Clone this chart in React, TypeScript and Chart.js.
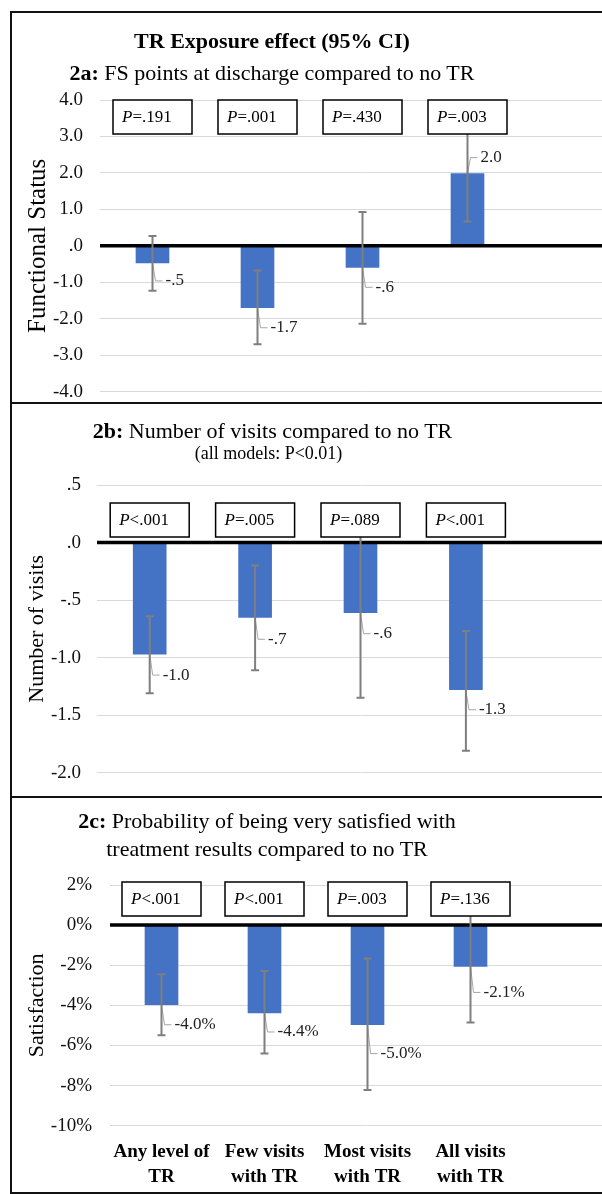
import React, { useEffect, useRef } from "react";
import { Chart, registerables } from "chart.js";

Chart.register(...registerables);

const SERIF = '"Liberation Serif", "Times New Roman", serif';

// Categories (x axis, shared by all panels)
const categories: string[][] = [
  ["Any level of", "TR"],
  ["Few visits", "with TR"],
  ["Most visits", "with TR"],
  ["All visits", "with TR"],
];

// 2a: FS points at discharge compared to no TR
const fsEstimate = [-0.47, -1.7, -0.59, 1.98];
const fsCiLow = [-1.23, -2.7, -2.14, 0.67];
const fsCiHigh = [0.27, -0.68, 0.93, 3.32];
const fsValueLabels = ["-.5", "-1.7", "-.6", "2.0"];
const fsPValues = ["=.191", "=.001", "=.430", "=.003"];
const fsTicks = [-4, -3, -2, -1, 0, 1, 2, 3, 4];

// 2b: Number of visits compared to no TR
const visitsEstimate = [-0.97, -0.65, -0.61, -1.28];
const visitsCiLow = [-1.31, -1.11, -1.35, -1.81];
const visitsCiHigh = [-0.64, -0.2, 0.1, -0.77];
const visitsValueLabels = ["-1.0", "-.7", "-.6", "-1.3"];
const visitsPValues = ["<.001", "=.005", "=.089", "<.001"];
const visitsTicks = [-2, -1.5, -1, -0.5, 0, 0.5];

// 2c: Probability of being very satisfied (percent points)
const satEstimate = [-3.97, -4.38, -4.96, -2.06];
const satCiLow = [-5.49, -6.4, -8.22, -4.86];
const satCiHigh = [-2.45, -2.29, -1.67, 0.7];
const satValueLabels = ["-4.0%", "-4.4%", "-5.0%", "-2.1%"];
const satPValues = ["<.001", "<.001", "=.003", "=.136"];
const satTicks = [-10, -8, -6, -4, -2, 0, 2];

const decFmt = (v: number) => v.toFixed(1).replace(/^(-?)0\./, "$1.");
const pctFmt = (v: number) => `${v}%`;

interface PanelCfg {
  top: number;
  height: number;
  padTop: number;
  padBottom: number;
  padRight: number;
  axisWidth: number;
  tickPad: number;
  estimate: number[];
  ciLow: number[];
  ciHigh: number[];
  valueLabels: string[];
  pValues: string[];
  ticks: number[];
  fmt: (v: number) => string;
  yTitle: string;
  yTitleSize: number;
  yTitleX: number;
  boxOffset: number;
  showX: boolean;
  xHeight?: number;
  labelShift: number[];
}

const panels: PanelCfg[] = [
  {
    top: 0, height: 420, padTop: 100, padBottom: 26.7, padRight: 15, axisWidth: 100, tickPad: 17,
    estimate: fsEstimate, ciLow: fsCiLow, ciHigh: fsCiHigh, valueLabels: fsValueLabels,
    pValues: fsPValues, ticks: fsTicks, fmt: decFmt,
    yTitle: "Functional Status", yTitleSize: 25, yTitleX: 38, boxOffset: 0, showX: false,
    labelShift: [-2, 0, 0, 0],
  },
  {
    top: 400, height: 400, padTop: 85, padBottom: 15, padRight: 16, axisWidth: 97, tickPad: 16,
    estimate: visitsEstimate, ciLow: visitsCiLow, ciHigh: visitsCiHigh, valueLabels: visitsValueLabels,
    pValues: visitsPValues, ticks: visitsTicks, fmt: decFmt,
    yTitle: "Number of visits", yTitleSize: 22, yTitleX: 37.5, boxOffset: 18, showX: false,
    labelShift: [1, 2, 1, 0],
  },
  {
    top: 795, height: 399, padTop: 90, padBottom: 0, padRight: 15, axisWidth: 110, tickPad: 18,
    estimate: satEstimate, ciLow: satCiLow, ciHigh: satCiHigh, valueLabels: satValueLabels,
    pValues: satPValues, ticks: satTicks, fmt: pctFmt,
    yTitle: "Satisfaction", yTitleSize: 22, yTitleX: 37, boxOffset: -3, showX: true, xHeight: 68.3,
    labelShift: [0, -1, 9, 6],
  },
];

function overlayPlugin(cfg: PanelCfg) {
  return {
    id: "overlay",
    afterDatasetsDraw(chart: any) {
      const ctx: CanvasRenderingContext2D = chart.ctx;
      const xs = chart.scales.x;
      const ys = chart.scales.y;
      const area = chart.chartArea;
      ctx.save();

      // zero line
      const y0 = ys.getPixelForValue(0);
      ctx.strokeStyle = "#000";
      ctx.lineWidth = 3.5;
      ctx.beginPath();
      ctx.moveTo(area.left, y0);
      ctx.lineTo(area.right, y0);
      ctx.stroke();

      // leaders + value labels
      cfg.estimate.forEach((v, i) => {
        const cx = xs.getPixelForValue(i);
        const yEnd = ys.getPixelForValue(v);
        const ly = yEnd + (v < 0 ? 20 : -16) + (cfg.labelShift[i] || 0);
        const lx = cx + 13;
        ctx.strokeStyle = "#a6a6a6";
        ctx.lineWidth = 1;
        ctx.beginPath();
        ctx.moveTo(cx, yEnd);
        ctx.lineTo(cx + 3, ly);
        ctx.lineTo(lx - 3, ly);
        ctx.stroke();
        ctx.fillStyle = "#222";
        ctx.font = `17px ${SERIF}`;
        ctx.textAlign = "left";
        ctx.textBaseline = "middle";
        ctx.fillText(cfg.valueLabels[i], lx, ly);
      });

      // error bars
      ctx.strokeStyle = "#7f7f7f";
      ctx.lineWidth = 2;
      cfg.estimate.forEach((_, i) => {
        const cx = xs.getPixelForValue(i);
        const yl = ys.getPixelForValue(cfg.ciLow[i]);
        const yh = ys.getPixelForValue(cfg.ciHigh[i]);
        ctx.beginPath();
        ctx.moveTo(cx, yl);
        ctx.lineTo(cx, yh);
        ctx.moveTo(cx - 4, yl);
        ctx.lineTo(cx + 4, yl);
        ctx.moveTo(cx - 4, yh);
        ctx.lineTo(cx + 4, yh);
        ctx.stroke();
      });

      // P-value boxes
      cfg.pValues.forEach((p, i) => {
        const cx = xs.getPixelForValue(i);
        const bw = 79;
        const bh = 34;
        const bx = cx - bw / 2;
        const by = area.top + cfg.boxOffset;
        ctx.fillStyle = "#fff";
        ctx.fillRect(bx, by, bw, bh);
        ctx.strokeStyle = "#000";
        ctx.lineWidth = 1.5;
        ctx.strokeRect(bx, by, bw, bh);
        ctx.fillStyle = "#000";
        ctx.textAlign = "left";
        ctx.textBaseline = "middle";
        ctx.font = `italic 17px ${SERIF}`;
        ctx.fillText("P", bx + 9, by + bh / 2 + 1);
        const pw = ctx.measureText("P").width;
        ctx.font = `17px ${SERIF}`;
        ctx.fillText(p, bx + 9 + pw, by + bh / 2 + 1);
      });

      // y axis title
      ctx.save();
      ctx.translate(cfg.yTitleX, (area.top + area.bottom) / 2);
      ctx.rotate(-Math.PI / 2);
      ctx.fillStyle = "#000";
      ctx.font = `${cfg.yTitleSize}px ${SERIF}`;
      ctx.textAlign = "center";
      ctx.textBaseline = "middle";
      ctx.fillText(cfg.yTitle, 0, 0);
      ctx.restore();

      ctx.restore();
    },
  };
}

function Panel({ cfg }: { cfg: PanelCfg }) {
  const ref = useRef<HTMLCanvasElement | null>(null);
  useEffect(() => {
    if (!ref.current) return;
    const labels: any[] = [...categories, ""];
    const chart = new Chart(ref.current, {
      type: "bar",
      data: {
        labels,
        datasets: [
          {
            data: [...cfg.estimate, null] as any,
            backgroundColor: "#4472C4",
            barThickness: 33,
          },
        ],
      },
      options: {
        animation: false,
        responsive: false,
        devicePixelRatio: 1,
        events: [],
        layout: {
          padding: { top: cfg.padTop, bottom: cfg.padBottom, left: 0, right: cfg.padRight },
        },
        plugins: {
          legend: { display: false },
          tooltip: { enabled: false },
        },
        scales: {
          x: {
            display: cfg.showX,
            grid: { display: false, drawTicks: false },
            border: { display: false },
            ticks: {
              autoSkip: false,
              maxRotation: 0,
              minRotation: 0,
              padding: 14,
              color: "#000",
              font: { family: SERIF, size: 19, weight: "bold", lineHeight: 25 / 19 },
            },
            afterFit: (s: any) => {
              if (cfg.xHeight) s.height = cfg.xHeight;
            },
          },
          y: {
            min: cfg.ticks[0],
            max: cfg.ticks[cfg.ticks.length - 1],
            afterBuildTicks: (s: any) => {
              s.ticks = cfg.ticks.map((v) => ({ value: v }));
            },
            afterFit: (s: any) => {
              s.width = cfg.axisWidth;
            },
            grid: {
              color: "#d9d9d9",
              lineWidth: 1,
              drawTicks: false,
            },
            border: { display: false },
            ticks: {
              padding: cfg.tickPad,
              color: "#111",
              font: { family: SERIF, size: 19 },
              callback: (v: any) => cfg.fmt(Number(v)),
            },
          },
        },
      },
      plugins: [overlayPlugin(cfg)],
    });
    return () => chart.destroy();
  }, [cfg]);
  return (
    <canvas
      ref={ref}
      width={640}
      height={cfg.height}
      style={{ position: "absolute", left: 0, top: cfg.top, width: 640, height: cfg.height }}
    />
  );
}

const titleBase: React.CSSProperties = {
  position: "absolute",
  left: 0,
  textAlign: "center",
  fontFamily: SERIF,
  color: "#000",
  whiteSpace: "nowrap",
};

export default function App() {
  return (
    <div
      style={{
        position: "fixed",
        left: 0,
        top: 0,
        width: 602,
        height: 1194,
        overflow: "hidden",
        background: "#fff",
      }}
    >
      {panels.map((p, i) => (
        <Panel key={i} cfg={p} />
      ))}

      <div style={{ ...titleBase, top: 28, width: 544, fontSize: 22, lineHeight: "26px", fontWeight: "bold" }}>
        TR Exposure effect (95% CI)
      </div>
      <div style={{ ...titleBase, top: 59.6, width: 544, fontSize: 22, lineHeight: "26px" }}>
        <b>2a:</b> FS points at discharge compared to no TR
      </div>

      <div style={{ ...titleBase, top: 418, width: 545, fontSize: 22, lineHeight: "26px" }}>
        <b>2b:</b> Number of visits compared to no TR
      </div>
      <div style={{ ...titleBase, top: 442, width: 537, fontSize: 18, lineHeight: "22px" }}>
        (all models: P&lt;0.01)
      </div>

      <div style={{ ...titleBase, top: 807, width: 534, fontSize: 22, lineHeight: "28.4px" }}>
        <b>2c:</b> Probability of being very satisfied with
        <br />
        treatment results compared to no TR
      </div>

      {/* frame */}
      <div
        style={{
          position: "absolute",
          left: 10,
          top: 11,
          width: 700,
          height: 1179,
          border: "2px solid #111",
        }}
      />
      <div style={{ position: "absolute", left: 10, top: 402, width: 700, height: 2, background: "#111" }} />
      <div style={{ position: "absolute", left: 10, top: 796, width: 700, height: 2, background: "#111" }} />
    </div>
  );
}
